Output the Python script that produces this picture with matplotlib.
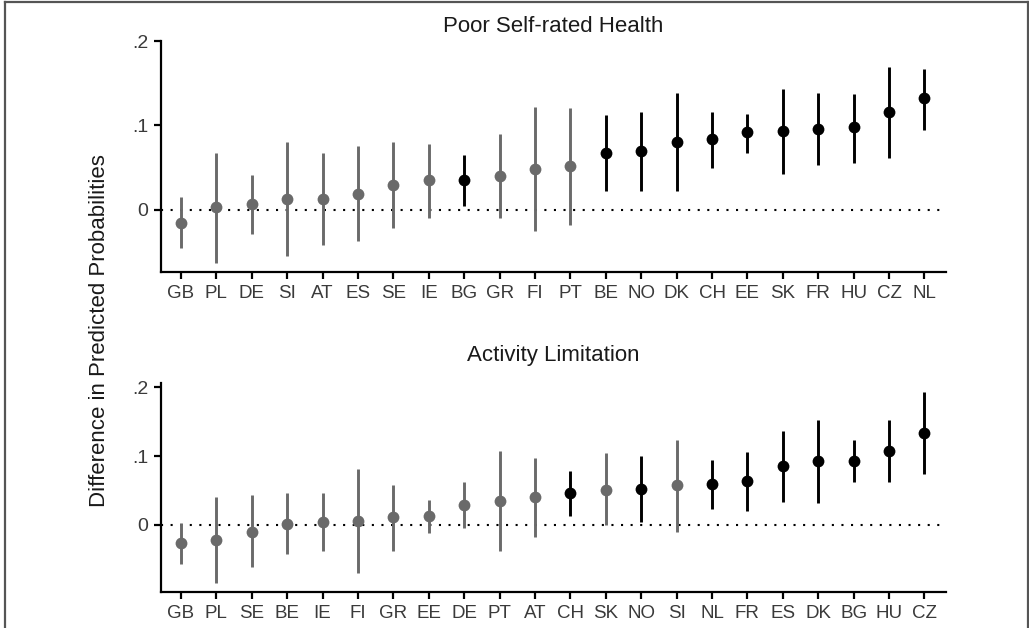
import matplotlib
matplotlib.use("Agg")
import matplotlib.pyplot as plt
from matplotlib.lines import Line2D

plt.rcParams['font.family'] = ['Liberation Sans', 'DejaVu Sans']

# Panel 1: Poor Self-rated Health
c1 = ["GB", "PL", "DE", "SI", "AT", "ES", "SE", "IE", "BG", "GR", "FI", "PT",
      "BE", "NO", "DK", "CH", "EE", "SK", "FR", "HU", "CZ", "NL"]
est1 = [-0.015, 0.003, 0.007, 0.013, 0.013, 0.019, 0.030, 0.035, 0.036, 0.040, 0.049, 0.052,
        0.068, 0.070, 0.081, 0.084, 0.092, 0.094, 0.096, 0.098, 0.116, 0.132]
lo1 = [-0.045, -0.063, -0.028, -0.055, -0.041, -0.037, -0.021, -0.009, 0.005, -0.010, -0.025, -0.018,
       0.022, 0.023, 0.022, 0.050, 0.067, 0.042, 0.053, 0.056, 0.061, 0.095]
hi1 = [0.015, 0.068, 0.041, 0.081, 0.068, 0.076, 0.081, 0.078, 0.065, 0.090, 0.122, 0.121,
       0.112, 0.116, 0.138, 0.116, 0.114, 0.143, 0.138, 0.137, 0.169, 0.167]
sig1 = [0, 0, 0, 0, 0, 0, 0, 0, 1, 0, 0, 0, 1, 1, 1, 1, 1, 1, 1, 1, 1, 1]

# Panel 2: Activity Limitation
c2 = ["GB", "PL", "SE", "BE", "IE", "FI", "GR", "EE", "DE", "PT", "AT", "CH",
      "SK", "NO", "SI", "NL", "FR", "ES", "DK", "BG", "HU", "CZ"]
est2 = [-0.026, -0.022, -0.010, 0.002, 0.005, 0.006, 0.011, 0.013, 0.029, 0.035, 0.040, 0.046,
        0.051, 0.052, 0.058, 0.059, 0.064, 0.085, 0.093, 0.093, 0.108, 0.134]
lo2 = [-0.056, -0.084, -0.061, -0.042, -0.038, -0.069, -0.038, -0.012, -0.005, -0.038, -0.017, 0.013,
       0.000, 0.004, -0.010, 0.023, 0.020, 0.033, 0.032, 0.062, 0.063, 0.074]
hi2 = [0.003, 0.040, 0.044, 0.046, 0.047, 0.082, 0.058, 0.036, 0.063, 0.108, 0.098, 0.079,
       0.105, 0.100, 0.124, 0.095, 0.106, 0.136, 0.152, 0.124, 0.153, 0.193]
sig2 = [0, 0, 0, 0, 0, 0, 0, 0, 0, 0, 0, 1, 0, 1, 0, 1, 1, 1, 1, 1, 1, 1]

titles = ["Poor Self-rated Health", "Activity Limitation"]
yticks = [0, 0.1, 0.2]
ytlabels = ["0", ".1", ".2"]

W, H = 1029, 628
fig = plt.figure(figsize=(W / 100, H / 100), dpi=100)

GRAY = '#6a6a6a'
BLACK = '#000000'
TXT = '#3a3a3a'


def px_axes(left, top, right, bottom):
    return fig.add_axes([left / W, 1 - bottom / H, (right - left) / W, (bottom - top) / H])


panels = [
    (c1, est1, lo1, hi1, sig1, (161, 41, 946, 272), (-0.0734, 0.2), 32),
    (c2, est2, lo2, hi2, sig2, (161, 383, 946, 592), (-0.0973, 0.2062), 361),
]

for i, (cats, est, lo, hi, sig, box, ylim, tbase) in enumerate(panels):
    ax = px_axes(*box)
    x = list(range(len(cats)))
    cols = [BLACK if s else GRAY for s in sig]
    ax.axhline(0, color='black', lw=1.5, linestyle=(0, (1, 3.6)), zorder=1)
    ax.vlines(x, lo, hi, colors=cols, lw=2.1, zorder=2)
    for xi, yi, c in zip(x, est, cols):
        ax.plot(xi, yi, 'o', color=c, markersize=8.5, zorder=3, markeredgewidth=0)
    ax.set_xlim(-0.565, len(cats) - 1 + 0.61)
    ax.set_ylim(*ylim)
    ax.set_xticks(x)
    ax.set_xticklabels(cats)
    ax.set_yticks(yticks)
    ax.set_yticklabels(ytlabels)
    for s in ['top', 'right']:
        ax.spines[s].set_visible(False)
    for s in ['left', 'bottom']:
        ax.spines[s].set_linewidth(1.6)
    ax.tick_params(axis='x', direction='out', length=5, width=1.6, color='black',
                   labelsize=13.5, labelcolor=TXT, pad=4)
    ax.tick_params(axis='y', direction='out', length=5, width=1.6, color='black',
                   labelsize=14, labelcolor=TXT, pad=4)
    ax.set_facecolor('white')
    fig.text(553.5 / W, 1 - tbase / H, titles[i], ha='center', va='baseline',
             fontsize=16, color='#1a1a1a')

fig.text(100 / W, 1 - 331 / H, "Difference in Predicted Probabilities", rotation=90,
         ha='center', va='center', fontsize=16, color='#1a1a1a')

# outer frame (bottom edge is cropped in the original)
fc = '#555555'
fig.add_artist(Line2D([5 / W, 5 / W], [0, 1 - 2 / H], transform=fig.transFigure, color=fc, lw=1.6))
fig.add_artist(Line2D([5 / W, 1027.5 / W], [1 - 2 / H, 1 - 2 / H], transform=fig.transFigure, color=fc, lw=1.6))
fig.add_artist(Line2D([1027.5 / W, 1027.5 / W], [0, 1 - 2 / H], transform=fig.transFigure, color=fc, lw=1.6))

fig.savefig("out.png", dpi=100, facecolor='white')
